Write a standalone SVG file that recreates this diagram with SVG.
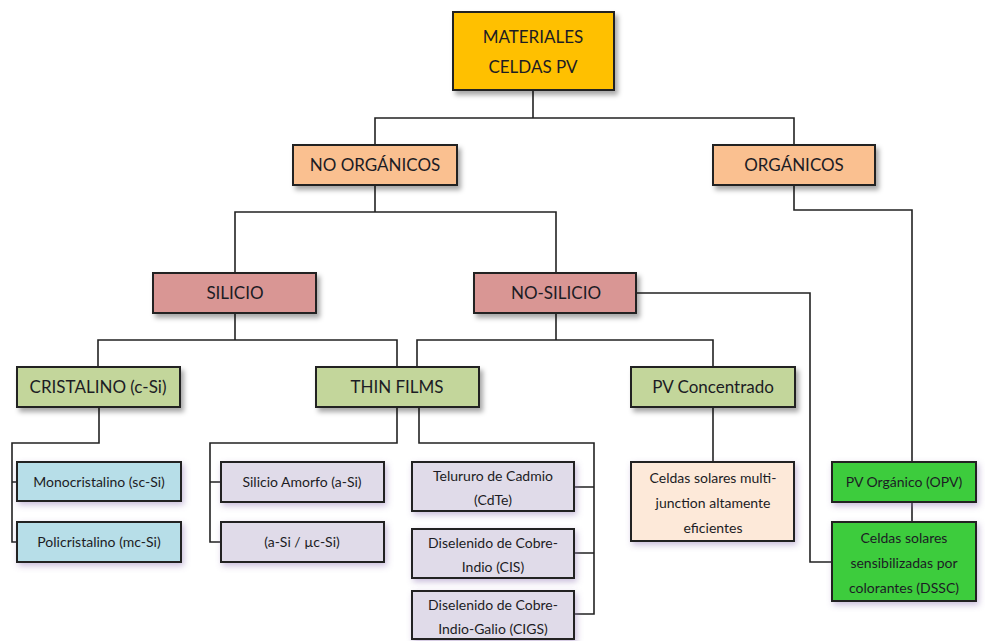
<svg xmlns="http://www.w3.org/2000/svg" width="985" height="641" viewBox="0 0 985 641">
<defs>
<filter id="sh" x="-10%" y="-20%" width="125%" height="150%">
<feDropShadow dx="3" dy="4" stdDeviation="2.5" flood-color="#000" flood-opacity="0.35"/>
</filter>
<filter id="gl" x="-10%" y="-20%" width="125%" height="150%">
<feDropShadow dx="2" dy="3" stdDeviation="3" flood-color="#8a6fb0" flood-opacity="0.45"/>
</filter>
</defs>
<style>
rect{stroke:#222;stroke-width:2}
.n rect{filter:url(#sh)}
.s rect{filter:url(#gl)}
text{font-family:Lato,"Liberation Sans",sans-serif;fill:#1c1c24;text-anchor:middle}
.big{font-size:17px}
.sm{font-size:14px}
#connectors path{fill:none;stroke:#222;stroke-width:1.6}
</style>
<rect x="0" y="0" width="985" height="641" fill="#fff" style="stroke:none"/>
<g id="connectors">
<path d="M533 90V118M375 145V118H794V145"/>
<path d="M375 185V212M235 272V212H556V272"/>
<path d="M235 313V340M98 367V340H397V367"/>
<path d="M556 313V340M417 367V340H713V367"/>
<path d="M636 293H810V562H832"/>
<path d="M794 185V210H912V462M912 502V522"/>
<path d="M99 407V443H12V542H17M12 482H17"/>
<path d="M397 407V443H210V542H221M210 482H221"/>
<path d="M419 407V443H594V614H574M574 487H594M574 553H594"/>
<path d="M713 407V462"/>
</g>
<g id="n-materiales" class="n"><rect x="453" y="12" width="161" height="78" fill="#FFC000"/><text class="big" x="533" y="43">MATERIALES</text><text class="big" x="533" y="73">CELDAS PV</text></g>
<g id="n-noorg" class="n"><rect x="293" y="145" width="164" height="40" fill="#FAC090"/><text class="big" x="375" y="171">NO ORGÁNICOS</text></g>
<g id="n-org" class="n"><rect x="713" y="145" width="162" height="40" fill="#FAC090"/><text class="big" x="794" y="171">ORGÁNICOS</text></g>
<g id="n-silicio" class="n"><rect x="153" y="273" width="163" height="40" fill="#D99694"/><text class="big" x="235" y="299">SILICIO</text></g>
<g id="n-nosilicio" class="n"><rect x="474" y="273" width="162" height="40" fill="#D99694"/><text class="big" x="556" y="299">NO-SILICIO</text></g>
<g id="n-cristalino" class="n"><rect x="17" y="367" width="163" height="40" fill="#C3D69B"/><text class="big" x="98" y="393">CRISTALINO (c-Si)</text></g>
<g id="n-thin" class="n"><rect x="316" y="367" width="163" height="40" fill="#C3D69B"/><text class="big" x="397" y="393">THIN FILMS</text></g>
<g id="n-pvc" class="n"><rect x="631" y="367" width="164" height="40" fill="#C3D69B"/><text class="big" x="713" y="393">PV Concentrado</text></g>
<g id="n-mono" class="s"><rect x="17" y="462" width="164" height="39" fill="#B7DEE8"/><text class="sm" x="99" y="487">Monocristalino (sc-Si)</text></g>
<g id="n-poli" class="s"><rect x="17" y="522" width="164" height="40" fill="#B7DEE8"/><text class="sm" x="99" y="547">Policristalino (mc-Si)</text></g>
<g id="n-amorfo" class="s"><rect x="221" y="462" width="163" height="40" fill="#E0DBE9"/><text class="sm" x="302" y="487">Silicio Amorfo (a-Si)</text></g>
<g id="n-asi" class="s"><rect x="221" y="522" width="163" height="40" fill="#E0DBE9"/><text class="sm" x="302" y="547">(a-Si / µc-Si)</text></g>
<g id="n-cdte" class="s"><rect x="412" y="462" width="162" height="49" fill="#E0DBE9"/><text class="sm" x="493" y="481">Telururo de Cadmio</text><text class="sm" x="493" y="505">(CdTe)</text></g>
<g id="n-cis" class="s"><rect x="412" y="529" width="162" height="49" fill="#E0DBE9"/><text class="sm" x="493" y="548">Diselenido de Cobre-</text><text class="sm" x="493" y="572">Indio (CIS)</text></g>
<g id="n-cigs" class="s"><rect x="412" y="591" width="162" height="48" fill="#E0DBE9"/><text class="sm" x="493" y="610">Diselenido de Cobre-</text><text class="sm" x="493" y="634">Indio-Galio (CIGS)</text></g>
<g id="n-multi" class="s"><rect x="631" y="462" width="163" height="79" fill="#FDE9D9"/><text class="sm" x="713" y="483">Celdas solares multi-</text><text class="sm" x="713" y="508">junction altamente</text><text class="sm" x="713" y="533">eficientes</text></g>
<g id="n-opv" class="s"><rect x="832" y="462" width="144" height="40" fill="#3DCC3D"/><text class="sm" x="904" y="487">PV Orgánico (OPV)</text></g>
<g id="n-dssc" class="s"><rect x="832" y="522" width="144" height="79" fill="#3DCC3D"/><text class="sm" x="904" y="543">Celdas solares</text><text class="sm" x="904" y="568">sensibilizadas por</text><text class="sm" x="904" y="593">colorantes (DSSC)</text></g>
</svg>
